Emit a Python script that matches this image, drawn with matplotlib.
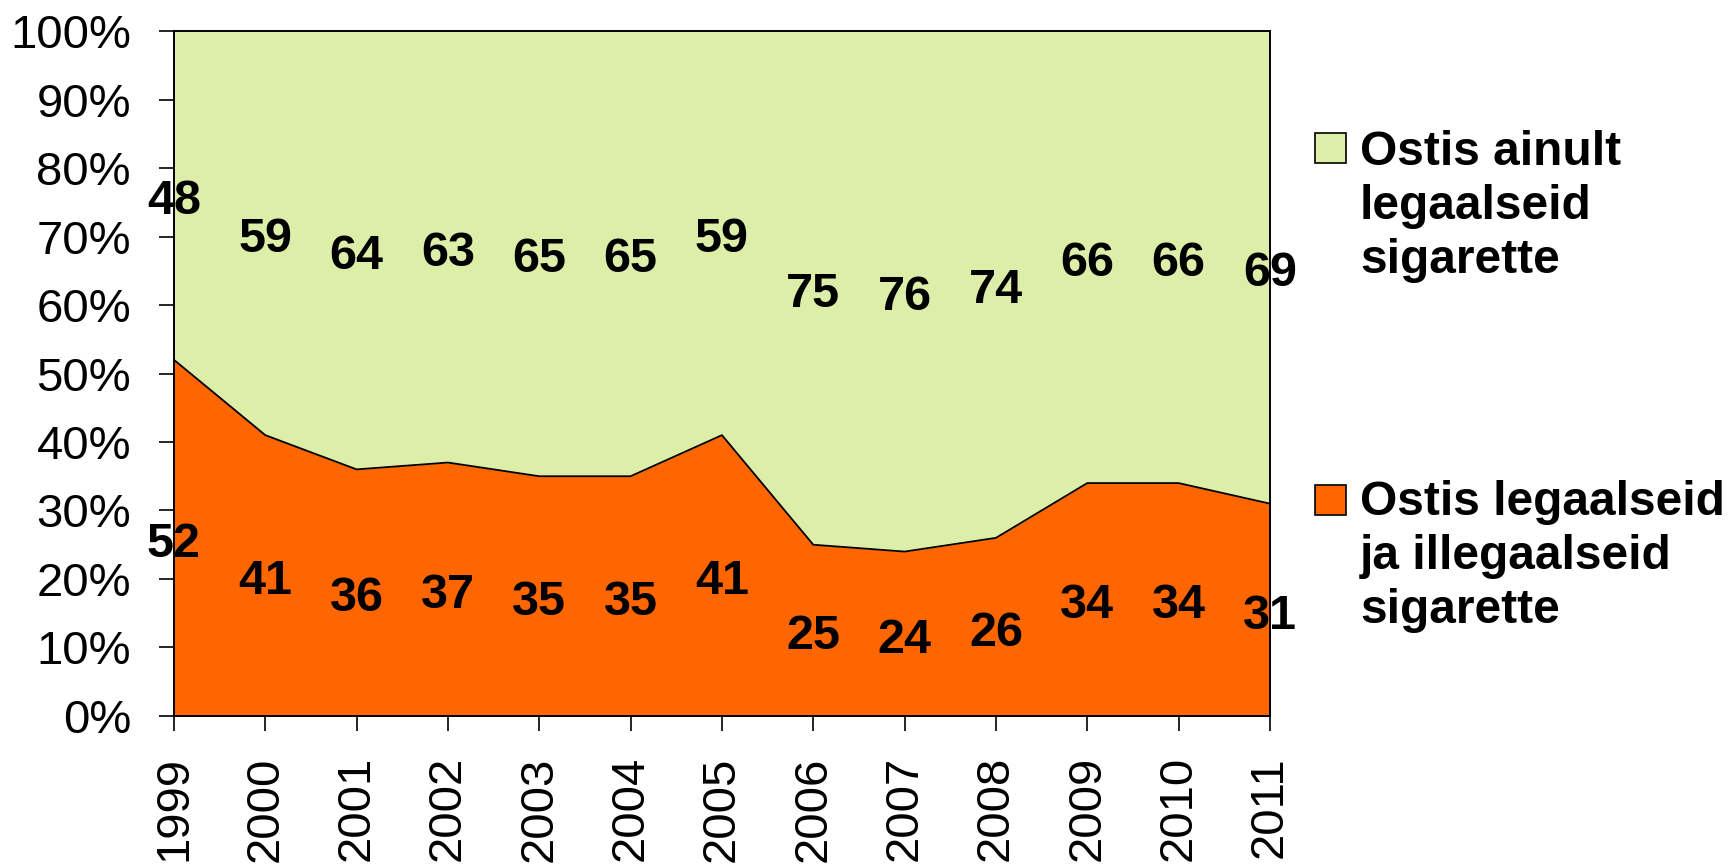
import matplotlib.pyplot as plt
from matplotlib.patches import Rectangle
import numpy as np

plt.rcParams['font.family'] = ['Liberation Sans', 'DejaVu Sans']

years = [1999, 2000, 2001, 2002, 2003, 2004, 2005, 2006, 2007, 2008, 2009, 2010, 2011]
both = [52, 41, 36, 37, 35, 35, 41, 25, 24, 26, 34, 34, 31]
legal_only = [48, 59, 64, 63, 65, 65, 59, 75, 76, 74, 66, 66, 69]
labels = ["Ostis ainult\nlegaalseid\nsigarette", "Ostis legaalseid\nja illegaalseid\nsigarette"]

orange = "#FF6600"
green = "#DDEEA8"

fig = plt.figure(figsize=(17.29, 8.67), dpi=100)
ax = fig.add_axes([0.1006, 0.1742, 0.6339, 0.79])

x = np.array(years)
low = np.array(both)
top = low + np.array(legal_only)

ax.fill_between(x, 0, low, color=orange, lw=0)
ax.fill_between(x, low, top, color=green, lw=0)
ax.plot(x, low, color="black", lw=1.3)

for xi, lo, up in zip(x, low, legal_only):
    for val, ypos in ((lo, lo / 2), (up, lo + up / 2)):
        ax.annotate(str(val), (xi, ypos), xytext=(0, -4.5), textcoords="offset points",
                    ha="center", va="center", fontsize=35, fontweight="bold")

ax.set_xlim(1999, 2011)
ax.set_ylim(0, 100)
ax.set_xticks(years)
ax.set_xticklabels([str(y) for y in years], rotation=90, fontsize=34)
ax.set_yticks(range(0, 101, 10))
ax.set_yticklabels([f"{v}%" for v in range(0, 101, 10)], fontsize=34)
ax.tick_params(axis="x", length=11, width=1.2, pad=18)
ax.tick_params(axis="y", length=11, width=1.2, pad=20)
for s in ax.spines.values():
    s.set_linewidth(1.4)
    s.set_color("black")

# legend drawn by hand so the box sits on the first text line
W, H = 1729, 867
entries = [(green, 133, [165, 219, 273], labels[0]),
           (orange, 485, [515, 569, 623], labels[1])]
for col, box_top, baselines, text in entries:
    fig.patches.append(Rectangle((1315 / W, 1 - (box_top + 30) / H), 31 / W, 30 / H,
                                 transform=fig.transFigure, facecolor=col,
                                 edgecolor="black", lw=1.2))
    for line, b in zip(text.split("\n"), baselines):
        fig.text(1360 / W, 1 - b / H, line, fontsize=34.5, fontweight="bold", va="baseline")

fig.savefig("out.png", dpi=100)
